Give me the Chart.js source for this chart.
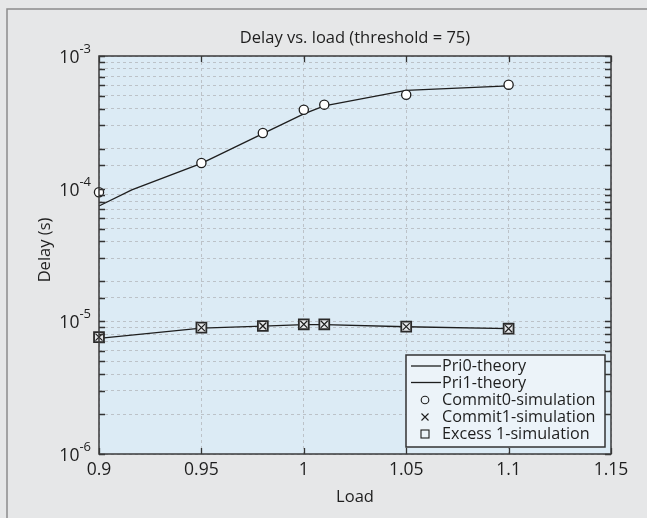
<!DOCTYPE html>
<html>
<head>
<meta charset="utf-8">
<script src="https://cdn.jsdelivr.net/npm/chart.js@4/dist/chart.umd.min.js"></script>
<style>
  html, body { margin: 0; padding: 0; background: #e6e7e8; }
  #wrap { width: 647px; height: 518px; }
</style>
</head>
<body>
<div id="wrap"><canvas id="chart" width="647" height="518"></canvas></div>
<script>
// values
const theoryLoad = [0.9, 0.916, 0.95, 0.98, 1.0, 1.01, 1.05, 1.1];
const pri0Theory = [7.4e-5, 9.8e-5, 1.55e-4, 2.6e-4, 3.66e-4, 4.2e-4, 5.5e-4, 5.95e-4];

const simLoad = [0.9, 0.95, 0.98, 1.0, 1.01, 1.05, 1.1];
const pri1Theory = [7.45e-6, 8.9e-6, 9.2e-6, 9.45e-6, 9.45e-6, 9.1e-6, 8.8e-6];
const commit0Sim = [9.4e-5, 1.56e-4, 2.63e-4, 3.93e-4, 4.3e-4, 5.1e-4, 6.08e-4];
const commit1Sim = [7.6e-6, 8.97e-6, 9.22e-6, 9.5e-6, 9.5e-6, 9.12e-6, 8.8e-6];
const excess1Sim = [7.6e-6, 8.97e-6, 9.22e-6, 9.5e-6, 9.5e-6, 9.12e-6, 8.8e-6];

const xTickLabels = ['0.9', '0.95', '1', '1.05', '1.1', '1.15'];
const yTickExps = [-6, -5, -4, -3];
const legendLabels = ['Pri0-theory', 'Pri1-theory', 'Commit0-simulation', 'Commit1-simulation', 'Excess 1-simulation'];

const FONT = '"Open Sans", "DejaVu Sans", sans-serif';
const INK = '#1e1e1e';

function pts(xs, ys) {
  return xs.map((x, i) => ({ x: x, y: ys[i] }));
}

const decor = {
  id: 'decor',
  beforeDraw(chart) {
    const ctx = chart.ctx;
    const a = chart.chartArea;
    ctx.save();
    ctx.fillStyle = '#e6e7e8';
    ctx.fillRect(0, 0, chart.width, chart.height);
    ctx.strokeStyle = '#8c8c8c';
    ctx.lineWidth = 1.5;
    ctx.strokeRect(7, 9, 660, 530);
    ctx.fillStyle = '#dcebf5';
    ctx.fillRect(a.left, a.top, a.right - a.left, a.bottom - a.top);
    ctx.restore();
  },
  afterDraw(chart) {
    const ctx = chart.ctx;
    const a = chart.chartArea;
    const xs = chart.scales.x;
    const ys = chart.scales.y;
    ctx.save();

    // inside ticks
    ctx.strokeStyle = '#333';
    ctx.lineWidth = 1.3;
    ctx.beginPath();
    xs.ticks.forEach(t => {
      const px = Math.round(xs.getPixelForValue(t.value)) + 0.5;
      ctx.moveTo(px, a.bottom); ctx.lineTo(px, a.bottom - 6);
      ctx.moveTo(px, a.top); ctx.lineTo(px, a.top + 6);
    });
    ys.ticks.forEach(t => {
      const py = Math.round(ys.getPixelForValue(t.value)) + 0.5;
      ctx.moveTo(a.left, py); ctx.lineTo(a.left + 6, py);
      ctx.moveTo(a.right, py); ctx.lineTo(a.right - 6, py);
    });
    ctx.stroke();

    // frame
    ctx.strokeStyle = '#3a3a3a';
    ctx.lineWidth = 1.5;
    ctx.strokeRect(a.left, a.top, a.right - a.left, a.bottom - a.top);

    // x tick labels
    ctx.fillStyle = INK;
    ctx.font = '17.5px ' + FONT;
    ctx.textAlign = 'center';
    ctx.textBaseline = 'middle';
    xTickLabels.forEach(lbl => {
      ctx.fillText(lbl, xs.getPixelForValue(Number(lbl)), a.bottom + 16);
    });

    // y tick labels with superscript
    yTickExps.forEach(e => {
      const py = ys.getPixelForValue(Math.pow(10, e));
      const sup = String(e);
      ctx.font = '13px ' + FONT;
      const sw = ctx.measureText(sup).width;
      ctx.textAlign = 'right';
      ctx.textBaseline = 'alphabetic';
      ctx.fillText(sup, 91, py - 3);
      ctx.font = '17.5px ' + FONT;
      ctx.fillText('10', 91 - sw, py + 7);
    });

    // title and axis titles
    ctx.textAlign = 'center';
    ctx.textBaseline = 'middle';
    ctx.font = '16.5px ' + FONT;
    ctx.fillText('Delay vs. load (threshold = 75)', (a.left + a.right) / 2, 38);
    ctx.fillText('Load', (a.left + a.right) / 2, 497);
    ctx.save();
    ctx.translate(45, 250);
    ctx.rotate(-Math.PI / 2);
    ctx.fillText('Delay (s)', 0, 0);
    ctx.restore();

    // legend
    const lx = 406, ly = 355, lw = 199, lh = 92;
    ctx.fillStyle = '#ecf3f9';
    ctx.fillRect(lx, ly, lw, lh);
    ctx.strokeStyle = '#333';
    ctx.lineWidth = 1.5;
    ctx.strokeRect(lx, ly, lw, lh);
    const rows = [366, 382.5, 400, 417, 434];
    const cx = 425;
    ctx.strokeStyle = INK;
    ctx.lineWidth = 1.3;
    [0, 1].forEach(i => {
      ctx.beginPath();
      ctx.moveTo(411, rows[i]); ctx.lineTo(441, rows[i]);
      ctx.stroke();
    });
    ctx.lineWidth = 1.1;
    ctx.beginPath();
    ctx.arc(cx, rows[2], 3.8, 0, Math.PI * 2);
    ctx.stroke();
    ctx.beginPath();
    ctx.moveTo(cx - 3.5, rows[3] - 3.5); ctx.lineTo(cx + 3.5, rows[3] + 3.5);
    ctx.moveTo(cx + 3.5, rows[3] - 3.5); ctx.lineTo(cx - 3.5, rows[3] + 3.5);
    ctx.stroke();
    ctx.strokeRect(cx - 4, rows[4] - 4, 8, 8);
    ctx.fillStyle = INK;
    ctx.font = '16.2px ' + FONT;
    ctx.textAlign = 'left';
    ctx.textBaseline = 'middle';
    legendLabels.forEach((t, i) => ctx.fillText(t, 442, rows[i] + 0.5));

    ctx.restore();
  }
};

new Chart(document.getElementById('chart'), {
  type: 'scatter',
  data: {
    datasets: [
      {
        label: legendLabels[0], data: pts(theoryLoad, pri0Theory), showLine: true,
        borderColor: INK, borderWidth: 1.3, pointRadius: 0, clip: false, order: 5
      },
      {
        label: legendLabels[1], data: pts(simLoad, pri1Theory), showLine: true,
        borderColor: INK, borderWidth: 1.3, pointRadius: 0, clip: false, order: 4
      },
      {
        label: legendLabels[2], data: pts(simLoad, commit0Sim), pointStyle: 'circle',
        pointRadius: 4.6, backgroundColor: '#ffffff', borderColor: INK, borderWidth: 1.3, clip: false, order: 1
      },
      {
        label: legendLabels[3], data: pts(simLoad, commit1Sim), pointStyle: 'crossRot',
        pointRadius: 5, borderColor: INK, borderWidth: 1.2, clip: false, order: 2
      },
      {
        label: legendLabels[4], data: pts(simLoad, excess1Sim), pointStyle: 'rect',
        pointRadius: 7, backgroundColor: '#e4e6e8', borderColor: '#2a2a2a', borderWidth: 1.8, clip: false, order: 3
      }
    ]
  },
  options: {
    responsive: false,
    animation: false,
    events: [],
    layout: { padding: { left: 99, top: 56, right: 36, bottom: 64 } },
    plugins: { legend: { display: false }, title: { display: false }, tooltip: { enabled: false } },
    scales: {
      x: {
        type: 'linear', min: 0.9, max: 1.15,
        ticks: { display: false, stepSize: 0.05 },
        grid: { color: '#bcc2c8', lineWidth: 1, drawTicks: false },
        border: { display: false, dash: [3, 3] }
      },
      y: {
        type: 'logarithmic', min: 1e-6, max: 1e-3,
        ticks: { display: false },
        grid: { color: '#bcc2c8', lineWidth: 1, drawTicks: false },
        border: { display: false, dash: [3, 3] }
      }
    }
  },
  plugins: [decor]
});
</script>
</body>
</html>
